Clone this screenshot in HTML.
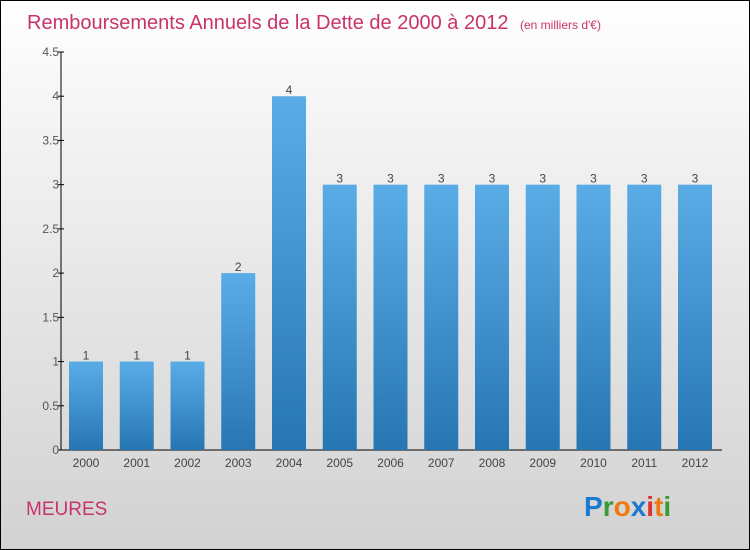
<!DOCTYPE html>
<html><head><meta charset="utf-8"><style>
body{margin:0}
#c{position:relative;width:748px;height:548px;border:1px solid #000;background:linear-gradient(#fff,#f0f0f0 30%,#d2d2d2);font-family:"Liberation Sans",sans-serif;overflow:hidden}
</style></head><body>
<div id="c">
<svg width="748" height="548">
<defs><linearGradient id="g" x1="0" y1="0" x2="0" y2="1"><stop offset="0" stop-color="#5aace6"/><stop offset="1" stop-color="#2776b4"/></linearGradient></defs>
<text x="26" y="28" font-size="20" fill="#c8336b">Remboursements Annuels de la Dette de 2000 à 2012 <tspan font-size="12" dx="6">(en milliers d'€)</tspan></text>
<g id="plot"></g>
<text x="25" y="514" font-size="19" fill="#c8336b">MEURES</text>
<g font-size="28" font-weight="bold" font-family="'Liberation Sans',sans-serif">
<text x="583" y="515"><tspan fill="#1a7ad0">P</tspan><tspan fill="#3a9a3a">r</tspan><tspan fill="#f07a10">o</tspan><tspan fill="#1a7ad0">x</tspan><tspan fill="#e03030">i</tspan><tspan fill="#f07a10">t</tspan><tspan fill="#3a9a3a">i</tspan></text></g>
</svg></div>
<script>
const categories=["2000","2001","2002","2003","2004","2005","2006","2007","2008","2009","2010","2011","2012"];
const values=[1,1,1,2,4,3,3,3,3,3,3,3,3];
const ticks=[0,0.5,1,1.5,2,2.5,3,3.5,4,4.5];
const tickLabels=["0","0.5","1","1.5","2","2.5","3","3.5","4","4.5"];
const NS="http://www.w3.org/2000/svg";
const g=document.getElementById('plot');
const y=v=>449-v*(398/4.5);
const x=i=>85+i*50.75;
function mk(t,a){const e=document.createElementNS(NS,t);for(const k in a)e.setAttribute(k,a[k]);g.appendChild(e);return e;}
let ax=mk('line',{x1:60,y1:y(0),x2:60,y2:y(4.5),stroke:'#000'});


let bx=mk('line',{x1:60,y1:y(0),x2:721,y2:y(0),stroke:'#000'});


ticks.forEach((t,i)=>{
 const l=mk('line',{x1:57,x2:63,y1:y(t),y2:y(t),stroke:'#000'});
 
 
 const tx=mk('text',{x:58,y:y(t)+4,'text-anchor':'end','font-size':12,fill:'#555'});
 tx.textContent=tickLabels[i];
 
 
});
values.forEach((v,i)=>{
 const r=mk('rect',{x:x(i)-17,y:y(v),width:34,height:y(0)-y(v),fill:'url(#g)'});
 
 
 const vl=mk('text',{x:x(i),y:y(v)-2,'text-anchor':'middle','font-size':12,fill:'#444'});
 vl.textContent=v;
 
 
 const xl=mk('text',{x:x(i),y:466,'text-anchor':'middle','font-size':12,fill:'#444'});
 xl.textContent=categories[i];
 
 
});
</script>
</body></html>
